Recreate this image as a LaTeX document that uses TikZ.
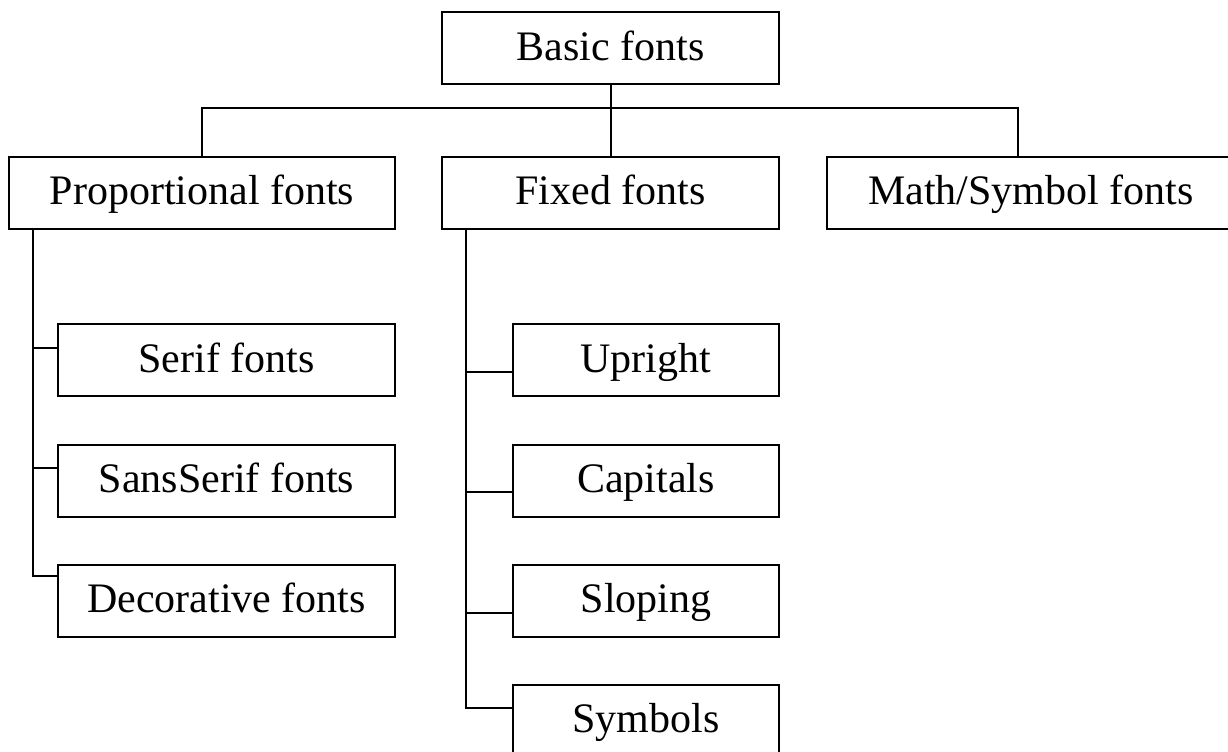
\documentclass[tikz,border=0pt]{standalone}
\usepackage{fontspec}
\setmainfont{Liberation Serif}
\begin{document}
\begin{tikzpicture}[x=0.5pt,y=-0.5pt,
  box/.style={draw, line width=1pt, inner sep=0pt, minimum height=36pt,
    text height=15pt, text depth=3pt, font=\fontsize{21}{25}\selectfont},
  wbox/.style={box, minimum width=168.5pt},
  conn/.style={line width=1pt}]
\useasboundingbox (0,0) rectangle (1228,751);
% top level
\node[wbox] (basic) at (610.5,48) {Basic fonts};
\node[box, minimum width=193pt] (prop) at (202,192.5) {Proportional fonts};
\node[wbox] (fixed) at (610.5,192.5) {Fixed fonts};
\node[box, minimum width=220pt, anchor=west] (math) at (826,192.5) {Math/Symbol fonts\hspace*{16pt}};
% proportional children
\node[wbox] (serif) at (226.5,360) {Serif fonts};
\node[wbox] (sans) at (226.5,480.5) {SansSerif fonts};
\node[wbox] (deco) at (226.5,600.5) {Decorative fonts};
% fixed children
\node[box, minimum width=133pt] (up) at (646,360) {Upright};
\node[box, minimum width=133pt] (cap) at (646,480.5) {Capitals};
\node[box, minimum width=133pt] (slo) at (646,600.5) {Sloping};
\node[box, minimum width=133pt] (sym) at (646,720.5) {Symbols};
% coordinates
\coordinate (hb) at (610,108);
\coordinate (mtop) at (1018,156);
% top connectors
\draw[conn] (basic.south) -- (fixed.north);
\draw[conn] (prop.north) |- (hb) -| (mtop);
% proportional tree
\coordinate (pv) at (33,229);
\draw[conn] (pv) |- ([yshift=-6pt]deco.north west);
\draw[conn] (33,348) -- (serif.west |- 0,348);
\draw[conn] (33,468) -- (sans.west |- 0,468);
% fixed tree
\coordinate (fv) at (466,229);
\draw[conn] (fv) |- ([yshift=-12pt]sym.north west);
\draw[conn] (466,372) -- (up.west |- 0,372);
\draw[conn] (466,492) -- (cap.west |- 0,492);
\draw[conn] (466,613) -- (slo.west |- 0,613);
\end{tikzpicture}
\end{document}
